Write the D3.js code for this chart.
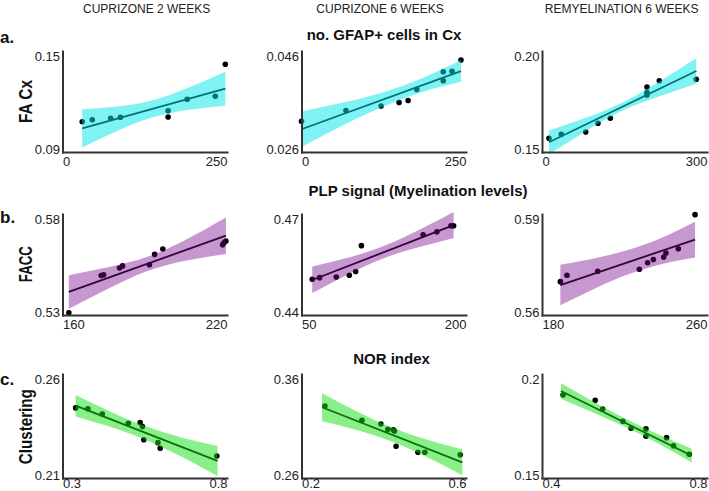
<html>
<head>
  <script src="https://d3js.org/d3.v7.min.js"></script>
  <style>
    body{ margin:0; background:#fff; }
    svg{ display:block; font-family:"Liberation Sans", Arial, sans-serif; }
  </style>
</head>
<body>
<script type="text/javascript">

// column / row text
var colTitles = ["CUPRIZONE 2 WEEKS", "CUPRIZONE 6 WEEKS", "REMYELINATION 6 WEEKS"];
var rowTitles = ["no. GFAP+ cells in Cx", "PLP signal (Myelination levels)", "NOR index"];
var rowLetters = ["a.", "b.", "c."];
var yTitles = ["FA Cx", "FACC", "Clustering"];

// axis ticks per panel (a1,a2,a3,b1,b2,b3,c1,c2,c3)
var xTicks = [[0,250],[0,250],[0,300],[160,220],[50,200],[180,260],[0.3,0.8],[0.2,0.6],[0.4,0.8]];
var xTickLabels = [["0","250"],["0","250"],["0","300"],["160","220"],["50","200"],["180","260"],["0.3","0.8"],["0.2","0.6"],["0.4","0.8"]];
var yTicks = [[0.09,0.15],[0.026,0.046],[0.15,0.20],[0.53,0.58],[0.44,0.47],[0.56,0.59],[0.21,0.26],[0.26,0.36],[0.15,0.2]];
var yTickLabels = [["0.09","0.15"],["0.026","0.046"],["0.15","0.20"],["0.53","0.58"],["0.44","0.47"],["0.56","0.59"],["0.21","0.26"],["0.26","0.36"],["0.15","0.2"]];

// scatter points [x, y]
var ptsA1 = [[30.0,0.1080],[45.3,0.1092],[73.2,0.1100],[88.0,0.1106],[160.5,0.1145],[160.5,0.1108],[189.5,0.1213],[232.2,0.1231],[247.4,0.1421]];
var ptsA2 = [[0,0.0321],[67.5,0.0342],[120.9,0.0351],[148.3,0.0358],[162.0,0.0362],[175.3,0.0384],[215.4,0.0419],[215.4,0.0401],[228.7,0.0420],[242.4,0.0442]];
var ptsA3 = [[12.7,0.1568],[35.1,0.1588],[79.5,0.1599],[101.8,0.1642],[124.2,0.1667],[190.9,0.1822],[190.9,0.1794],[190.9,0.1782],[213.3,0.1853],[280.5,0.1860]];
var ptsB1 = [[162.3,0.5311],[174.1,0.5495],[175.0,0.5499],[180.8,0.5533],[181.9,0.5543],[191.7,0.5549],[193.6,0.5600],[196.6,0.5627],[218.4,0.5648],[218.9,0.5658],[219.6,0.5666]];
var ptsB2 = [[59.8,0.4506],[66.5,0.4511],[81.7,0.4513],[93.6,0.4518],[99.4,0.4529],[104.6,0.4606],[160.9,0.4638],[173.5,0.4647],[186.3,0.4665],[188.7,0.4665]];
var ptsB3 = [[188.9,0.5699],[192.1,0.5718],[207.0,0.5730],[227.2,0.5736],[231.2,0.5755],[234.0,0.5765],[239.0,0.5772],[240.1,0.5784],[246.1,0.5797],[254.2,0.5898]];
var ptsC1 = [[0.340,0.2437],[0.377,0.2433],[0.421,0.2408],[0.500,0.2363],[0.536,0.2366],[0.543,0.2347],[0.547,0.2284],[0.590,0.2270],[0.597,0.2243],[0.769,0.2206]];
var ptsC2 = [[0.257,0.3292],[0.347,0.3155],[0.393,0.3119],[0.410,0.3068],[0.423,0.3064],[0.426,0.3052],[0.430,0.2905],[0.483,0.2847],[0.500,0.2847],[0.586,0.2824]];
var ptsC3 = [[0.451,0.1899],[0.529,0.1874],[0.547,0.1832],[0.596,0.1773],[0.616,0.1739],[0.652,0.1736],[0.652,0.1701],[0.702,0.1694],[0.719,0.1655],[0.757,0.1614]];

// fitted line ends [x, y]
var fitA1 = [[30.0,0.1041],[247.4,0.1276]];
var fitA2 = [[0,0.0305],[242.4,0.0420]];
var fitA3 = [[12.7,0.1548],[280.5,0.1901]];
var fitB1 = [[162.3,0.5414],[219.6,0.5693]];
var fitB2 = [[59.8,0.4504],[188.7,0.4667]];
var fitB3 = [[188.9,0.5689],[254.2,0.5824]];
var fitC1 = [[0.340,0.2448],[0.771,0.2182]];
var fitC2 = [[0.250,0.3280],[0.591,0.2751]];
var fitC3 = [[0.446,0.1918],[0.763,0.1607]];

// confidence band [x, low, high]
var bandA1 = [[30.0,0.0926,0.1155],[84.5,0.1028,0.1171],[138.7,0.1108,0.1209],[193.1,0.1151,0.1284],[247.4,0.1175,0.1377]];
var bandA2 = [[0,0.0270,0.0340],[60.2,0.0311,0.0357],[120.9,0.0348,0.0377],[181.4,0.0378,0.0405],[242.4,0.0399,0.0442]];
var bandA3 = [[12.7,0.1489,0.1607],[79.6,0.1603,0.1669],[146.7,0.1705,0.1745],[213.6,0.1776,0.1849],[280.5,0.1838,0.1964]];
var bandB1 = [[162.3,0.5331,0.5497],[176.6,0.5430,0.5537],[191.0,0.5518,0.5588],[205.3,0.5570,0.5675],[219.6,0.5602,0.5783]];
var bandB2 = [[59.8,0.4465,0.4544],[92.1,0.4520,0.4570],[124.3,0.4568,0.4604],[156.6,0.4601,0.4652],[188.7,0.4629,0.4706]];
var bandB3 = [[188.9,0.5629,0.5749],[205.2,0.5677,0.5768],[221.5,0.5720,0.5793],[237.8,0.5751,0.5829],[254.2,0.5771,0.5877]];
var bandC1 = [[0.340,0.2396,0.2499],[0.448,0.2345,0.2417],[0.555,0.2282,0.2347],[0.663,0.2202,0.2294],[0.771,0.2110,0.2254]];
var bandC2 = [[0.250,0.3145,0.3414],[0.336,0.3059,0.3236],[0.421,0.2948,0.3083],[0.506,0.2799,0.2968],[0.591,0.2627,0.2875]];
var bandC3 = [[0.446,0.1881,0.1956],[0.525,0.1814,0.1867],[0.605,0.1743,0.1782],[0.684,0.1663,0.1708],[0.763,0.1574,0.1641]];

var pts = [ptsA1,ptsA2,ptsA3,ptsB1,ptsB2,ptsB3,ptsC1,ptsC2,ptsC3];
var fits = [fitA1,fitA2,fitA3,fitB1,fitB2,fitB3,fitC1,fitC2,fitC3];
var bands = [bandA1,bandA2,bandA3,bandB1,bandB2,bandB3,bandC1,bandC2,bandC3];

// layout
var cols = [[62.5,227],[301.5,466],[542,707]];
var rows = [[51,152],[214,315],[374,478]];
var xLabelGap = [14, 14, 10];   // last row sits on the bottom edge
var bandFill = ["rgb(0,232,232)", "rgb(122,10,140)", "rgb(20,225,20)"];
var bandAlpha = [0.5, 0.42, 0.5];

var svg = d3.select("body").append("svg")
  .attr("width", 709)
  .attr("height", 491)

// column headers
svg.selectAll(".colTitle")
  .data(colTitles)
  .enter()
  .append("text")
  .attr("x", function(d,i){ return [146.7,380,621.7][i] })
  .attr("y", 12.7)
  .attr("text-anchor","middle")
  .attr("font-size", 12)
  .attr("fill","#222")
  .text(function(d){ return d })

// row titles
svg.selectAll(".rowTitle")
  .data(rowTitles)
  .enter()
  .append("text")
  .attr("x", function(d,i){ return [384,418,391.5][i] })
  .attr("y", function(d,i){ return [39.5,195.5,364.2][i] })
  .attr("text-anchor","middle")
  .attr("font-size", 15)
  .attr("font-weight","bold")
  .attr("fill","#111")
  .text(function(d){ return d })

svg.selectAll(".rowLetter")
  .data(rowLetters)
  .enter()
  .append("text")
  .attr("x", 0)
  .attr("y", function(d,i){ return [42.7,223,385][i] })
  .attr("font-size", 17)
  .attr("font-weight","bold")
  .attr("fill","#111")
  .text(function(d){ return d })

svg.selectAll(".yTitle")
  .data(yTitles)
  .enter()
  .append("text")
  .attr("transform", function(d,i){ return "translate(31.5," + [101.5,264.2,426.7][i] + ") rotate(-90)" })
  .attr("text-anchor","middle")
  .attr("font-size", 18)
  .attr("font-weight","bold")
  .attr("fill","#111")
  .attr("textLength", function(d,i){ return [43,36,75][i] })
  .attr("lengthAdjust","spacingAndGlyphs")
  .text(function(d){ return d })

var drawPanel = function(k){
  var row = Math.floor(k/3), col = k % 3;
  var xr = cols[col], yr = rows[row];

  var xScale = d3.scaleLinear().domain(xTicks[k]).range(xr);
  var yScale = d3.scaleLinear().domain(yTicks[k]).range([yr[1], yr[0]]);

  var g = svg.append("g").classed("panel", true)

  g.selectAll("circle")
    .data(pts[k])
    .enter()
    .append("circle")
    .attr("cx", function(d){ return xScale(d[0]) })
    .attr("cy", function(d){ return yScale(d[1]) })
    .attr("r", 2.8)
    .attr("fill", "#000")

  var line = d3.line()
    .x(function(d){ return xScale(d[0]) })
    .y(function(d){ return yScale(d[1]) })

  g.append("path")
    .datum(fits[k])
    .attr("d", line)
    .attr("fill","none")
    .attr("stroke","#000")
    .attr("stroke-width", 1.8)

  // band goes on top, semi transparent, so points under it get tinted
  var area = d3.area()
    .x(function(d){ return xScale(d[0]) })
    .y0(function(d){ return yScale(d[1]) })
    .y1(function(d){ return yScale(d[2]) })
    .curve(d3.curveNatural)

  g.append("path")
    .datum(bands[k])
    .attr("d", area)
    .attr("fill", bandFill[row])
    .attr("fill-opacity", bandAlpha[row])

  // axes
  var xAxis = d3.axisBottom(xScale)
    .tickValues(xTicks[k])
    .tickSize(0)
    .tickSizeOuter(0)
    .tickFormat(function(d,i){ return xTickLabels[k][i] })
  var gx = svg.append("g")
    .attr("transform","translate(0," + yr[1] + ")")
    .call(xAxis)
  gx.attr("font-size", 13).attr("font-family", null)
  gx.select(".domain").attr("stroke","#333").attr("stroke-width",2).attr("stroke-linecap","square")
  gx.selectAll("text")
    .attr("y", xLabelGap[row])
    .attr("dy", null)
    .attr("fill","#222")
    .attr("text-anchor", function(d,i){ return i == 0 ? "start" : "end" })

  var yAxis = d3.axisLeft(yScale)
    .tickValues(yTicks[k])
    .tickSize(0)
    .tickSizeOuter(0)
    .tickFormat(function(d,i){ return yTickLabels[k][i] })
  var gy = svg.append("g")
    .attr("transform","translate(" + xr[0] + ",0)")
    .call(yAxis)
  gy.attr("font-size", 13).attr("font-family", null)
  gy.select(".domain").attr("stroke","#333").attr("stroke-width",2).attr("stroke-linecap","square")
  gy.selectAll("text")
    .attr("x", -2.5)
    .attr("dy", null)
    .attr("fill","#222")
    .attr("y", function(d,i){ return i == 0 ? 1 : 9.5 })
}

for (var k = 0; k < 9; k++) drawPanel(k);

</script>
</body>
</html>
